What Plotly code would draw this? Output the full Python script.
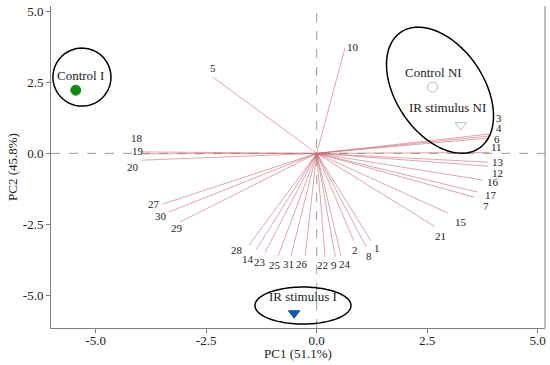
import numpy as np
import plotly.graph_objects as go

# ---- data ----
var_labels = ["1","2","3","4","5","6","7","8","9","10","11","12","13","14","15","16",
              "17","18","19","20","21","22","23","24","25","26","27","28","29","30","31"]
load_x = [1.23, 0.84, 3.90, 3.90, -2.35, 3.90, 3.56, 1.12, 0.42, 0.64, 3.90, 3.88, 3.88, -1.37, 2.97, 3.76,
          3.63, -3.93, -3.93, -3.95, 2.67, 0.19, -1.17, 0.55, -0.87, -0.26, -3.48, -1.53, -3.09, -3.34, -0.58]
load_y = [-3.08, -3.08, 0.68, 0.61, 2.68, 0.54, -1.54, -3.29, -3.64, 3.70, 0.03, -0.45, -0.31, -3.39, -2.10, -0.94,
          -1.36, 0.05, -0.02, -0.24, -2.57, -3.64, -3.49, -3.60, -3.60, -3.60, -1.78, -3.22, -2.41, -2.06, -3.60]

groups = ["Control I", "Control NI", "IR stimulus NI", "IR stimulus I"]
score_x = [-5.45, 2.62, 3.26, -0.51]
score_y = [2.22, 2.33, 0.99, -5.62]

tick_vals = [-5, -2.5, 0, 2.5, 5]
tick_text = ["-5.0", "-2.5", "0.0", "2.5", "5.0"]

# ---- styles ----
label_off = {  # pixel offsets of variable labels from the loading tips
    "1": (6, 7), "2": (1, 9), "3": (10, -16), "4": (10, -8), "5": (0, -9), "6": (8, 1), "7": (12, 9),
    "8": (3, 9), "9": (-1, 8), "10": (8, -1), "11": (7, -5), "12": (9, 7), "13": (10, 0), "14": (-8, 9),
    "15": (13, 9), "16": (10, 2), "17": (14, 3), "18": (-6, -14), "19": (-5, -3), "20": (-9, 7),
    "21": (6, 10), "22": (-3, 8), "23": (-5, 9), "24": (4, 8), "25": (-3, 9), "26": (-3, 8),
    "27": (-9, 0), "28": (-12, 5), "29": (-3, 6), "30": (-8, 4), "31": (-3, 8)}
marker_sym = ["circle", "circle-open", "triangle-down-open", "triangle-down"]
marker_col = ["#138a13", "#a9c4cc", "#a9c4cc", "#1456a8"]
group_lbl_pos = [(-5.35, 2.75), (2.65, 2.85), (2.95, 1.60), (-0.31, -5.04)]

XR = [-6.01, 5.165]
YR = [-6.14, 5.18]
W, H = 550, 365
ML, MR, MT, MB = 51, 5, 6, 37
PXX = (W - ML - MR) / (XR[1] - XR[0])
PXY = (H - MT - MB) / (YR[1] - YR[0])

FONT = "Times New Roman, Liberation Serif, serif"
TXT = "#222"

fig = go.Figure()

# zero lines
fig.add_shape(type="line", x0=XR[0], x1=XR[1], y0=0, y1=0, line=dict(color="#9a9a9a", width=1, dash="dash"), layer="below")
fig.add_shape(type="line", x0=0, x1=0, y0=YR[0], y1=YR[1], line=dict(color="#9a9a9a", width=1, dash="dash"), layer="below")

# loading lines
lx, ly = [], []
for x, y in zip(load_x, load_y):
    lx += [0, x, None]
    ly += [0, y, None]
fig.add_trace(go.Scatter(x=lx, y=ly, mode="lines", line=dict(color="rgba(200,105,115,0.75)", width=0.8),
                         hoverinfo="skip", showlegend=False))

for lab, x, y in zip(var_labels, load_x, load_y):
    dx, dy = label_off[lab]
    fig.add_annotation(x=x, y=y, text=lab, showarrow=False, xshift=dx, yshift=-dy,
                       font=dict(family=FONT, size=11, color=TXT))

# scores
for g, x, y, s, c in zip(groups, score_x, score_y, marker_sym, marker_col):
    fig.add_trace(go.Scatter(x=[x], y=[y], mode="markers", marker=dict(symbol=s, color=c, size=10,
                             line=dict(color=c, width=1)), showlegend=False, name=g))

for g, (x, y) in zip(groups, group_lbl_pos):
    fig.add_annotation(x=x, y=y, text=g, showarrow=False, font=dict(family=FONT, size=13, color=TXT))

# ellipses (center in data, semi-axes in px, angle in deg, screen)
ellipses = [(-5.31, 2.68, 29, 29, 0), (2.79, 2.22, 70, 44, 56), (-0.31, -5.35, 48, 18.5, 0)]
t = np.linspace(0, 2 * np.pi, 120)
for cx, cy, a, b, ang in ellipses:
    th = np.deg2rad(ang)
    px = a * np.cos(t) * np.cos(th) - b * np.sin(t) * np.sin(th)
    py = a * np.cos(t) * np.sin(th) + b * np.sin(t) * np.cos(th)
    ex = cx + px / PXX
    ey = cy - py / PXY
    path = "M " + " L ".join(f"{u:.4f},{v:.4f}" for u, v in zip(ex, ey)) + " Z"
    fig.add_shape(type="path", path=path, line=dict(color="black", width=1.5))

axis_common = dict(showgrid=False, zeroline=False, showline=True, linecolor="#808080", linewidth=1,
                   ticks="outside", ticklen=4, tickcolor="#808080", automargin=False,
                   tickvals=tick_vals, ticktext=tick_text,
                   tickfont=dict(family=FONT, size=13, color=TXT))
fig.update_layout(
    width=W, height=H, margin=dict(l=ML, r=MR, t=MT, b=MB, autoexpand=False),
    paper_bgcolor="white", plot_bgcolor="white",
    xaxis=dict(range=XR, ticklabelstandoff=-4, **axis_common),
    yaxis=dict(range=YR, **axis_common),
)
fig.add_shape(type="line", xref="paper", yref="paper", x0=1, x1=1, y0=0, y1=1, line=dict(color="#808080", width=1))

# axis titles
fig.add_annotation(xref="paper", yref="paper", x=0.5, y=0, xanchor="center", yanchor="middle",
                   yshift=-25, text="PC1 (51.1%)", showarrow=False,
                   font=dict(family=FONT, size=13, color=TXT))
fig.add_annotation(xref="paper", yref="paper", x=0, y=0.5, xanchor="center", yanchor="middle",
                   xshift=-39, textangle=-90, text="PC2 (45.8%)", showarrow=False,
                   font=dict(family=FONT, size=13, color=TXT))

fig.write_html("out.html", config={"displayModeBar": False},
               post_script="document.body.style.margin='0';document.body.style.padding='0';")
